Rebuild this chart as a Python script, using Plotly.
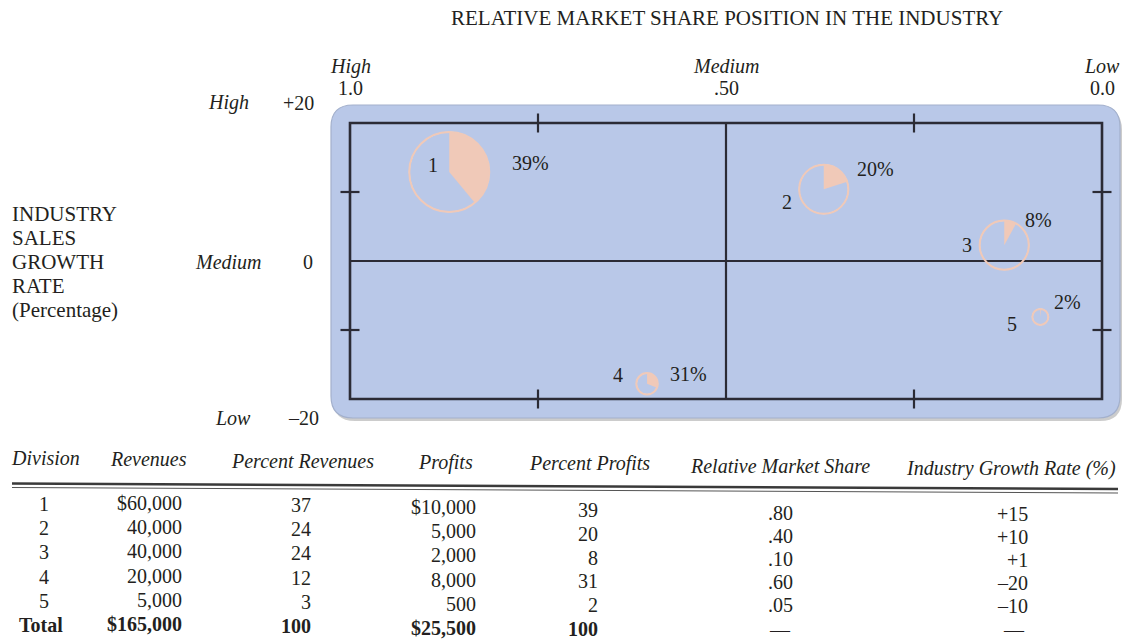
import math
import plotly.graph_objects as go

W, H = 1126, 642

# ---------------- data ----------------
divisions = ["1", "2", "3", "4", "5"]
revenues = [60000, 40000, 40000, 20000, 5000]
pct_revenues = [37, 24, 24, 12, 3]
profits = [10000, 5000, 2000, 8000, 500]
pct_profits = [39, 20, 8, 31, 2]
rel_share = [0.80, 0.40, 0.10, 0.60, 0.05]
growth = [15, 10, 1, -20, -10]
# bubble centres as drawn on the matrix
plot_share = [0.868, 0.370, 0.130, 0.605, 0.082]
plot_growth = [12.9, 10.4, 2.3, -17.8, -8.1]
x_tick_vals = [1.0, 0.5, 0.0]
x_tick_words = ["High", "Medium", "Low"]
x_tick_nums = ["1.0", ".50", "0.0"]
y_tick_words = ["High", "Medium", "Low"]
y_tick_nums = ["+20", "0", "\u201320"]
headers = ["Division", "Revenues", "Percent Revenues", "Profits",
           "Percent Profits", "Relative Market Share", "Industry Growth Rate (%)"]

# ---------------- styles / geometry ----------------
FONT = "Liberation Serif"
TXT = "#231f20"
BLUE = "#b9c8e8"
PEACH = "#f0c9b8"
LINE = "#2b2b35"
FS = 20

# plot area in pixels (the rounded box)
PX0, PX1, PY0, PY1 = 331, 1120, 105, 418
SX = 752.0      # pixels per unit of relative market share
SY = 6.9        # pixels per growth-rate point
xr = [1 + (350 - PX0) / SX, 0 - (PX1 - 1102) / SX]
yr = [-20 - (PY1 - 399) / SY, 20 + (123 - PY0) / SY]


def px(x):
    return x / W


def py(y):
    return 1 - y / H


fig = go.Figure()

# invisible hover trace at the bubble centres
radii = [max(8.0, 40.0 * (r / max(revenues)) ** 1.2) for r in revenues]
fig.add_trace(go.Scatter(
    x=plot_share, y=plot_growth, mode="markers",
    marker=dict(size=[2 * r for r in radii], color="rgba(0,0,0,0)"),
    customdata=list(zip(divisions, revenues, pct_profits, rel_share, growth)),
    hovertemplate="Division %{customdata[0]}<br>Revenues $%{customdata[1]:,}"
                  "<br>Profits %{customdata[2]}%<br>Rel. share %{customdata[3]}"
                  "<br>Growth %{customdata[4]}%<extra></extra>",
    showlegend=False))

shapes = []


def rounded(x0, y0, x1, y1, r):
    # pixel coords -> paper path
    a0, a1 = px(x0), px(x1)
    b0, b1 = py(y0), py(y1)   # b0 top (larger), b1 bottom
    rx, ry = r / W, r / H
    return (f"M {a0+rx},{b0} L {a1-rx},{b0} Q {a1},{b0} {a1},{b0-ry} "
            f"L {a1},{b1+ry} Q {a1},{b1} {a1-rx},{b1} L {a0+rx},{b1} "
            f"Q {a0},{b1} {a0},{b1+ry} L {a0},{b0-ry} Q {a0},{b0} {a0+rx},{b0} Z")


# shadow + box
shapes.append(dict(type="path", xref="paper", yref="paper", layer="below",
                   path=rounded(PX0 + 2, PY0 + 3, PX1 + 2, PY1 + 3, 22),
                   fillcolor="rgba(110,110,110,0.35)", line=dict(width=0)))
shapes.append(dict(type="path", xref="paper", yref="paper", layer="below",
                   path=rounded(PX0, PY0, PX1, PY1, 22),
                   fillcolor=BLUE, line=dict(color="#a3b0cc", width=1.2)))

# inner frame and quadrant lines
shapes.append(dict(type="rect", xref="x", yref="y", x0=1, x1=0, y0=-20, y1=20,
                   line=dict(color=LINE, width=2.6)))
shapes.append(dict(type="line", xref="x", yref="y", x0=0.5, x1=0.5, y0=-20, y1=20,
                   line=dict(color=LINE, width=2.2)))
shapes.append(dict(type="line", xref="x", yref="y", x0=0, x1=1, y0=0, y1=0,
                   line=dict(color=LINE, width=2.2)))
tx = 9.5 / SX
ty = 9.5 / SY
for v in [0.75, 0.25]:
    for yy in [20, -20]:
        shapes.append(dict(type="line", xref="x", yref="y", x0=v, x1=v,
                           y0=yy - ty, y1=yy + ty, line=dict(color=LINE, width=2.2)))
for v in [10, -10]:
    for xx in [1, 0]:
        shapes.append(dict(type="line", xref="x", yref="y", x0=xx - tx, x1=xx + tx,
                           y0=v, y1=v, line=dict(color=LINE, width=2.2)))

# pie bubbles
for i in range(len(divisions)):
    r = radii[i]
    f = pct_profits[i] / 100.0
    n = max(4, int(60 * f))
    pts = ["M 0,0", f"L 0,{r:.2f}"]
    for k in range(1, n + 1):
        t = 2 * math.pi * f * k / n
        pts.append(f"L {r*math.sin(t):.2f},{r*math.cos(t):.2f}")
    pts.append("Z")
    shapes.append(dict(type="path", xref="x", yref="y", xsizemode="pixel",
                       ysizemode="pixel", xanchor=plot_share[i], yanchor=plot_growth[i],
                       path=" ".join(pts), fillcolor=PEACH, line=dict(width=0)))
    shapes.append(dict(type="circle", xref="x", yref="y", xsizemode="pixel",
                       ysizemode="pixel", xanchor=plot_share[i], yanchor=plot_growth[i],
                       x0=-r, x1=r, y0=-r, y1=r,
                       line=dict(color=PEACH, width=2)))

# table double rule (slightly tilted like the scan)
shapes.append(dict(type="line", xref="paper", yref="paper", x0=px(12), x1=px(1118),
                   y0=py(483.5), y1=py(489), line=dict(color="#3a3a3a", width=2.6)))
shapes.append(dict(type="line", xref="paper", yref="paper", x0=px(12), x1=px(1118),
                   y0=py(487.5), y1=py(493), line=dict(color="#555555", width=1)))

ann = []


def text(x, y, s, xanchor="center", size=FS, ref="paper", **kw):
    ann.append(dict(x=px(x) if ref == "paper" else x, y=py(y), xref="paper" if ref == "paper" else ref,
                    yref="paper", text=s, showarrow=False, xanchor=xanchor,
                    yanchor="middle", font=dict(family=FONT, size=size, color=TXT), **kw))


# title
text(726.5, 18, "RELATIVE MARKET SHARE POSITION IN THE INDUSTRY", size=21)

# x "ticks"
for v, w, nlab in zip(x_tick_vals, x_tick_words, x_tick_nums):
    text(v, 66, f"<i>{w}</i>", ref="x")
    text(v, 88, nlab, ref="x")

# y "ticks"
for (yy, w, nlab, wx, nx) in [(103, y_tick_words[0], y_tick_nums[0], 228, 298),
                              (262, y_tick_words[1], y_tick_nums[1], 228, 308),
                              (418, y_tick_words[2], y_tick_nums[2], 233, 303)]:
    text(wx, yy, f"<i>{w}</i>")
    text(nx, yy, nlab)

# y title block
for k, s in enumerate(["INDUSTRY", "SALES", "GROWTH", "RATE", "(Percentage)"]):
    text(10, 214 + 24 * k, s, xanchor="left", size=21)

# bubble labels
num_off = [(-16, -7), (-37, 13), (-37, 0), (-29, -9), (-28, 7)]
pct_off = [(81, -9), (52, -20), (34, -25), (41, -10), (27, -15)]
for i in range(len(divisions)):
    ann.append(dict(x=plot_share[i], y=plot_growth[i], xref="x", yref="y",
                    text=divisions[i], showarrow=False, xshift=num_off[i][0],
                    yshift=-num_off[i][1],
                    font=dict(family=FONT, size=FS, color=TXT)))
    ann.append(dict(x=plot_share[i], y=plot_growth[i], xref="x", yref="y",
                    text=f"{pct_profits[i]}%", showarrow=False, xshift=pct_off[i][0],
                    yshift=-pct_off[i][1],
                    font=dict(family=FONT, size=FS, color=TXT)))

# ---------------- table ----------------
SKEW = 0.0105
head_x = [45, 148, 302, 445, 589, 780, 1011]
for hx, h in zip(head_x, headers):
    text(hx, 458 + SKEW * (hx - 44), f"<i>{h}</i>")

rows = []
for i in range(len(divisions)):
    rev = f"${revenues[i]:,}" if i == 0 else f"{revenues[i]:,}"
    pro = f"${profits[i]:,}" if i == 0 else f"{profits[i]:,}"
    share = f"{rel_share[i]:.2f}".lstrip("0")
    g = f"+{growth[i]}" if growth[i] > 0 else f"\u2013{abs(growth[i])}"
    rows.append([divisions[i], rev, str(pct_revenues[i]), pro,
                 str(pct_profits[i]), share, g])
rows.append(["<b>Total</b>", f"<b>${sum(revenues):,}</b>", f"<b>{sum(pct_revenues)}</b>",
             f"<b>${sum(profits):,}</b>", f"<b>{sum(pct_profits)}</b>", "\u2014", "\u2014"])

col_x = [44, 184, 313, 478, 600, 780, 1030]
col_anchor = ["center", "right", "right", "right", "right", "center", "right"]
col_top = [504, 503, 505, 507, 510, 513, 514]
col_step = [24.2, 24.2, 24.2, 24.2, 23.8, 23.0, 23.0]
last = len(rows) - 1
for i, row in enumerate(rows):
    for j, cell in enumerate(row):
        x = col_x[j]
        anc = col_anchor[j]
        if i == last and j == 0:
            x = 41
        if i == last and j == 6:
            x, anc = 1014, "center"
        yy = col_top[j] + col_step[j] * i
        if i == last and j >= 5:
            # dashes: compact text box so it stays clear of the row above
            text(x, 630, cell, xanchor=anc, height=10)
            continue
        text(x, yy, cell, xanchor=anc)

fig.update_layout(
    width=W, height=H,
    margin=dict(l=0, r=0, t=0, b=0),
    paper_bgcolor="white", plot_bgcolor="rgba(0,0,0,0)",
    xaxis=dict(domain=[PX0 / W, PX1 / W], range=xr, visible=False, fixedrange=True),
    yaxis=dict(domain=[py(PY1), py(PY0)], range=yr, visible=False, fixedrange=True),
    shapes=shapes, annotations=ann,
    showlegend=False,
    font=dict(family=FONT, color=TXT),
)

fig.write_html("out.html")
